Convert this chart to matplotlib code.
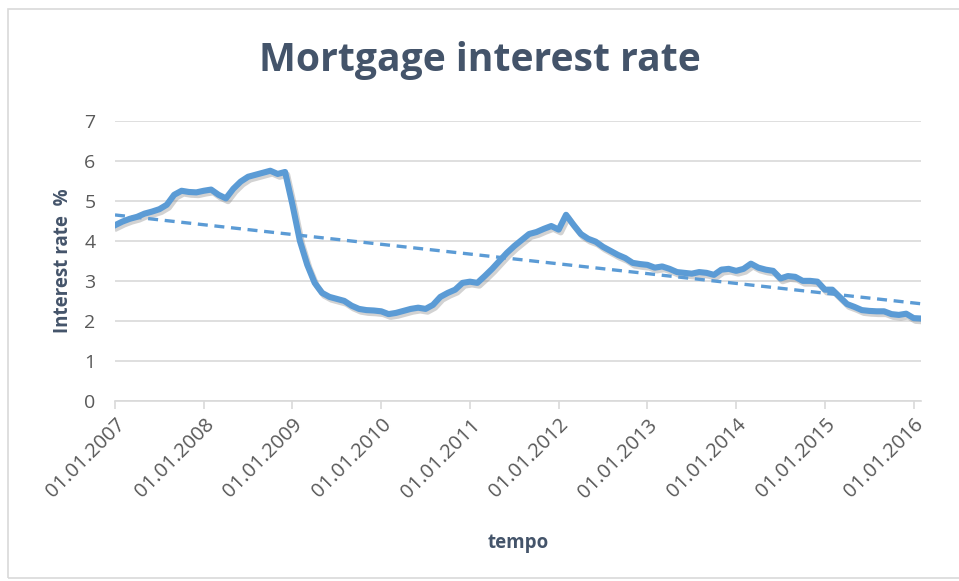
"""
Mortgage interest rate, monthly, Jan 2007 - Feb 2016, with linear trend.
"""
import matplotlib
matplotlib.use("Agg")
import matplotlib.pyplot as plt
import matplotlib.patheffects as pe
from matplotlib.patches import Rectangle
import numpy as np

plt.rcParams["font.family"] = ["Open Sans", "DejaVu Sans"]

# monthly values, Jan 2007 .. Feb 2016
rate = [
    4.39, 4.48, 4.55, 4.60, 4.68, 4.73, 4.79, 4.90, 5.15, 5.25, 5.22, 5.21,   # 2007
    5.25, 5.28, 5.15, 5.06, 5.30, 5.48, 5.60, 5.65, 5.70, 5.75, 5.67, 5.72,   # 2008
    4.90, 4.00, 3.40, 2.95, 2.70, 2.60, 2.55, 2.50, 2.38, 2.30, 2.27, 2.26,   # 2009
    2.24, 2.17, 2.20, 2.25, 2.30, 2.33, 2.30, 2.40, 2.60, 2.70, 2.78, 2.95,   # 2010
    2.98, 2.95, 3.12, 3.30, 3.50, 3.70, 3.87, 4.02, 4.17, 4.22, 4.30, 4.37,   # 2011
    4.28, 4.65, 4.40, 4.17, 4.05, 3.98, 3.85, 3.75, 3.65, 3.57, 3.45, 3.42,   # 2012
    3.40, 3.33, 3.36, 3.30, 3.22, 3.20, 3.18, 3.22, 3.20, 3.15, 3.28, 3.30,   # 2013
    3.25, 3.30, 3.43, 3.33, 3.28, 3.25, 3.06, 3.12, 3.10, 3.00, 3.00, 2.98,   # 2014
    2.78, 2.78, 2.60, 2.42, 2.35, 2.27, 2.25, 2.24, 2.24, 2.17, 2.15, 2.18,   # 2015
    2.07, 2.06,                                                               # 2016
]
years = list(range(2007, 2017))
tick_labels = [f"01.01.{y}" for y in years]

TITLE_C = "#44546A"
TEXT_C = "#595959"
GRID_C = "#D9D9D9"
LINE_C = "#5B9BD5"

x = np.arange(len(rate))
slope, intercept = np.polyfit(x, rate, 1)
trend = slope * x + intercept

fig = plt.figure(figsize=(9.59, 5.81), dpi=100)
ax = fig.add_axes([115 / 959, 1 - 401 / 581, (921 - 115) / 959, (401 - 120.7) / 581])

ax.plot(x, rate, color=LINE_C, linewidth=4.4, solid_joinstyle="round", zorder=3,
        path_effects=[pe.SimpleLineShadow(offset=(1.5, -2), shadow_color="#808080", alpha=0.35),
                      pe.Normal()])
ax.plot(x, trend, color=LINE_C, linewidth=2.4, linestyle=(0, (3, 2)), zorder=4)

ax.set_xlim(0, len(rate) - 1)
ax.set_ylim(0, 7)
ax.set_yticks(range(0, 8))
ax.set_xticks(range(0, len(rate), 12))
ax.set_xticklabels(tick_labels, rotation=45, ha="right", rotation_mode="anchor")

ax.grid(axis="y", color=GRID_C, linewidth=1.2)
ax.set_axisbelow(True)
for s in ["top", "right", "left"]:
    ax.spines[s].set_visible(False)
ax.spines["bottom"].set_color(GRID_C)
ax.spines["bottom"].set_linewidth(1.2)
ax.tick_params(axis="y", length=0, pad=14, labelsize=14, labelcolor=TEXT_C)
ax.tick_params(axis="x", length=6, width=1.2, color=GRID_C, pad=4, labelsize=14.5, labelcolor=TEXT_C)

ax.set_ylabel("Interest rate  %", fontsize=13.5, fontweight="bold", color=TITLE_C, labelpad=8)
ax.set_xlabel("tempo", fontsize=13.5, fontweight="bold", color=TITLE_C, labelpad=22)
fig.text(0.5, 1 - 60 / 581, "Mortgage interest rate", ha="center", va="center",
         fontsize=28.2, fontweight="bold", color=TITLE_C)

fig.patches.append(Rectangle((8 / 959, 3 / 581), 1.2, 1 - 12 / 581, transform=fig.transFigure,
                             fill=False, edgecolor=GRID_C, linewidth=1.2))

fig.savefig("out.png", dpi=100)
